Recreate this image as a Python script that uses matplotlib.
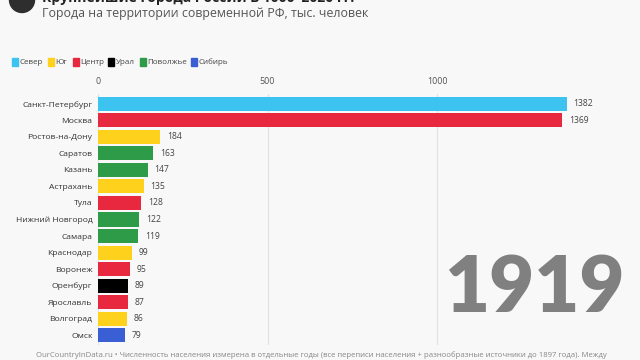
import matplotlib.pyplot as plt
from matplotlib.patches import Rectangle, Ellipse

cities = ['Санкт-Петербург', 'Москва', 'Ростов-на-Дону', 'Саратов', 'Казань', 'Астрахань',
          'Тула', 'Нижний Новгород', 'Самара', 'Краснодар', 'Воронеж', 'Оренбург',
          'Ярославль', 'Волгоград', 'Омск']
population = [1382, 1369, 184, 163, 147, 135, 128, 122, 119, 99, 95, 89, 87, 86, 79]
regions = ['Север', 'Центр', 'Юг', 'Поволжье', 'Поволжье', 'Юг', 'Центр', 'Поволжье',
           'Поволжье', 'Юг', 'Центр', 'Урал', 'Центр', 'Юг', 'Сибирь']
region_names = ['Север', 'Юг', 'Центр', 'Урал', 'Поволжье', 'Сибирь']
region_colors = ['#3cc3ef', '#fdd11c', '#e8283f', '#000000', '#2e9b48', '#3a5fd4']
year = '1919'

plt.rcParams['font.family'] = ['Open Sans', 'DejaVu Sans']
cmap = dict(zip(region_names, region_colors))
bg = '#f8f8f8'

fig = plt.figure(figsize=(6.4, 3.6), dpi=100, facecolor=bg)
ax = fig.add_axes([98 / 640, 1 - 345 / 360, (627 - 98) / 640, (345 - 94) / 360], facecolor=bg)

ypos = list(range(len(cities)))
ax.barh(ypos, population, height=0.85, color=[cmap[r] for r in regions], zorder=3)
for y, v in zip(ypos, population):
    ax.text(v + 20, y, str(v), va='center', ha='left', fontsize=6.2, color='#444444')

ax.set_xlim(0, 1560)
ax.set_ylim(len(cities) - 0.4, -0.6)
ax.set_yticks(ypos)
ax.set_yticklabels(cities, fontsize=6.1, color='#333333')
ax.set_xticks([0, 500, 1000])
ax.xaxis.tick_top()
ax.tick_params(axis='x', length=0, labelsize=6.4, labelcolor='#555555', pad=6)
ax.tick_params(axis='y', length=0, pad=4)
ax.grid(axis='x', color='#e2e2e2', linewidth=0.8, zorder=0)
for s in ax.spines.values():
    s.set_visible(False)

ax.text(0.995, 0.22, year, transform=ax.transAxes, ha='right', va='center',
        fontsize=56, fontweight='heavy', family='Lato', color='#808080', zorder=5)

# header (partly cut off at the top)
fig.patches.append(Ellipse((22 / 640, 1 - 0 / 360), 25 / 640, 25 / 360,
                           transform=fig.transFigure, color='#2e2e2e', zorder=5))
fig.text(42 / 640, 1 - 2 / 360, 'Крупнейшие города России в 1000–2020 гг.', fontsize=10,
         fontweight='bold', color='#222222', va='baseline')
fig.text(42 / 640, 1 - 13 / 360, 'Города на территории современной РФ, тыс. человек',
         fontsize=8.9, color='#555555', va='center')

# legend
lx = [12, 48, 73, 108, 140, 191]
for x, name, c in zip(lx, region_names, region_colors):
    fig.patches.append(Rectangle((x / 640, 1 - 66 / 360), 6 / 640, 8 / 360,
                                 transform=fig.transFigure, color=c))
    fig.text((x + 7.5) / 640, 1 - 62 / 360, name, fontsize=5.8, color='#444444', va='center')

fig.text(36 / 640, 1 - 355 / 360,
         'OurCountryInData.ru • Численность населения измерена в отдельные годы (все переписи населения + '
         'разнообразные источники до 1897 года). Между',
         fontsize=5.6, color='#888888', va='center')

fig.savefig('out.png', dpi=100, facecolor=bg)
